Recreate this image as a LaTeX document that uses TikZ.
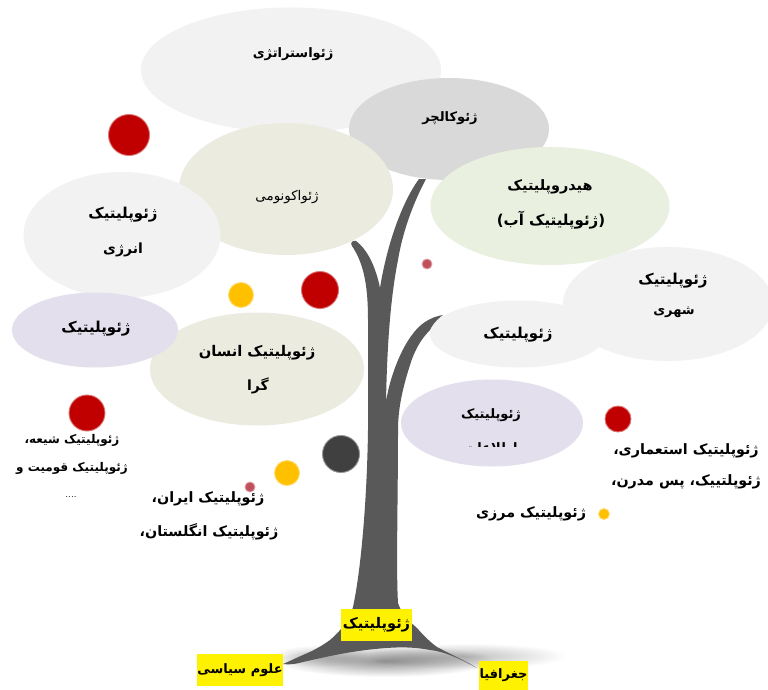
\documentclass[tikz,border=0pt]{standalone}
\usepackage{fontspec}
\usetikzlibrary{shapes.geometric}
\TeXXeTstate=1
\newfontfamily\fafont[Script=Arabic]{DejaVu Sans}
\newcommand{\fatxt}[1]{\fafont\beginR #1\endR}
\definecolor{bgrey}{HTML}{F2F2F2}
\definecolor{bdark}{HTML}{D9D9D9}
\definecolor{bolive}{HTML}{EBEBE0}
\definecolor{bgreen}{HTML}{E9F0DF}
\definecolor{bpurple}{HTML}{E3DFEC}
\definecolor{dred}{HTML}{C00000}
\definecolor{dyellow}{HTML}{FFC000}
\definecolor{dpink}{HTML}{C0505A}
\definecolor{ddark}{HTML}{404040}
\definecolor{trunk}{HTML}{595959}
\tikzset{
  x=1pt,y=-1pt,
  bub/.style={ellipse,inner sep=0pt,draw=none},
  dotc/.style={circle,inner sep=0pt,fill=#1,draw=#1!55,line width=0.9pt},
  lab/.style={inner sep=0pt,font=\fontsize{#1}{#1}\selectfont\bfseries,text=black},
  tag/.style={fill=yellow,inner sep=0pt,text=black,font=\fontsize{#1}{#1}\selectfont\bfseries},
}
\begin{document}
\begin{tikzpicture}
\useasboundingbox (0,0) rectangle (768,690);
\fill[white] (0,0) rectangle (768,690);
% shadow under the tree
\begin{scope}[blend mode=multiply]
\shade[inner color=black!25,outer color=white,draw=none] (465,656) ellipse [x radius=102,y radius=13];
\shade[inner color=black!22,outer color=white,draw=none] (320,656) ellipse [x radius=50,y radius=11];
\shade[inner color=black!42,outer color=white,draw=none] (385,661) ellipse [x radius=110,y radius=16];
\end{scope}
% tree
\fill[trunk] (283,664) .. controls (290,661) and (296,658) .. (303,655)
  .. controls (315,650) and (323,645) .. (330,640)
  .. controls (342,630) and (350,618) .. (353,607)
  .. controls (361,570) and (367,500) .. (368,430)
  -- (368,320)
  .. controls (368,290) and (365,265) .. (352,246)
  .. controls (350,243) and (352,240) .. (356,241)
  .. controls (368,250) and (376,268) .. (380,288)
  .. controls (386,250) and (400,205) .. (419,179)
  -- (426,179)
  .. controls (412,205) and (402,235) .. (398,260)
  .. controls (390,300) and (387,350) .. (386,402)
  .. controls (390,375) and (405,335) .. (425,322)
  .. controls (431,318) and (437,316) .. (443,315)
  .. controls (436,320) and (432,326) .. (430,330)
  .. controls (420,340) and (414,352) .. (410,365)
  .. controls (402,390) and (398,410) .. (398,430)
  .. controls (398,500) and (396,570) .. (398,603)
  .. controls (402,615) and (410,622) .. (417,628)
  .. controls (423,635) and (430,642) .. (437,647)
  .. controls (452,655) and (466,661) .. (477,668)
  .. controls (462,660) and (447,652) .. (430,650)
  .. controls (415,647) and (400,647) .. (387,648)
  .. controls (355,650) and (325,657) .. (303,662)
  .. controls (296,664) and (289,665) .. (283,664) -- cycle;
% bubbles
\node[bub,fill=bgrey,minimum width=300,minimum height=125] (strat) at (291,70) {};
\node[bub,fill=bdark,minimum width=200,minimum height=102] (cult) at (449,129) {};
\node[bub,fill=bolive,minimum width=214,minimum height=132] (econ) at (286,189) {};
\node[bub,fill=bgreen,minimum width=239,minimum height=118] (hydro) at (550,206) {};
\node[bub,fill=bgrey,minimum width=197,minimum height=126] (energy) at (122,235) {};
\node[bub,fill=bgrey,minimum width=176,minimum height=67] (plain) at (518,334) {};
\node[bub,fill=bgrey,minimum width=210,minimum height=114] (urban) at (668,304) {};
\node[bub,fill=bolive,minimum width=214,minimum height=113] (human) at (257,369) {};
\node[bub,fill=bpurple,minimum width=166,minimum height=75] (purple) at (95,330) {};
\node[bub,fill=bpurple,minimum width=182,minimum height=87] (info) at (492,423) {};
% dots
\node[dotc=dred,minimum size=41] (d1) at (129,135) {};
\node[dotc=dred,minimum size=37] (d2) at (320,290) {};
\node[dotc=dyellow,minimum size=25] (d3) at (241,295) {};
\node[dotc=dpink,minimum size=10] (d4) at (427,264) {};
\node[dotc=dred,minimum size=36] (d5) at (87,413) {};
\node[dotc=ddark,minimum size=37] (d6) at (341,454) {};
\node[dotc=dyellow,minimum size=25] (d7) at (287,473) {};
\node[dotc=dpink,minimum size=10] (d8) at (250,487) {};
\node[dotc=dred,minimum size=26] (d9) at (618,419) {};
\node[dotc=dyellow,minimum size=11] (d10) at (604,514) {};
% labels
\node[lab=13] (t1) at (293,54) {\fatxt{ژئواستراتژی}};
\node[lab=13] (t2) at (450,118) {\fatxt{ژئوکالچر}};
\node[inner sep=0pt,font=\fontsize{13.4}{14}\selectfont] (t3) at (287,197) {\fatxt{ژئواکونومی}};
\node[lab=14.4] (t4) at (550,187) {\fatxt{هیدروپلیتیک}};
\node[lab=15] (t5) at (551,220) {\fatxt{(ژئوپلیتیک آب)}};
\node[lab=15] (t6) at (123,215) {\fatxt{ژئوپلیتیک}};
\node[lab=14] (t7) at (123,250) {\fatxt{انرژی}};
\node[lab=15] (t8) at (673,281) {\fatxt{ژئوپلیتیک}};
\node[lab=13] (t9) at (674,312) {\fatxt{شهری}};
\node[lab=15] (t10) at (518,335) {\fatxt{ژئوپلیتیک}};
\node[lab=15] (t11) at (96,329) {\fatxt{ژئوپلیتیک}};
\node[lab=14.7] (t12) at (257,353) {\fatxt{ژئوپلیتیک انسان}};
\node[lab=14] (t13) at (258,386) {\fatxt{گرا}};
\node[lab=13] (t14) at (491,415) {\fatxt{ژئوپلیتیک}};
\begin{scope}
\clip (440,430) rectangle (540,446);
\node[lab=13] (t15) at (491,448) {\fatxt{اطلاعات}};
\end{scope}
\node[lab=12] (t16) at (72,440) {\fatxt{ژئوپلیتیک شیعه،}};
\node[lab=12] (t17) at (72,468) {\fatxt{ژئوپلیتیک قومیت و}};
\node[inner sep=0pt,font=\fontsize{10}{11}\selectfont] (t18) at (71,497) {....};
\node[lab=14.3] (t19) at (208,499) {\fatxt{ژئوپلیتیک ایران،}};
\node[lab=14.3] (t20) at (209,532) {\fatxt{ژئوپلیتیک انگلستان،}};
\node[lab=14.3] (t21) at (686,451) {\fatxt{ژئوپلیتیک استعماری،}};
\node[lab=14.3] (t22) at (686,482) {\fatxt{ژئوپلتییک، پس مدرن،}};
\node[lab=14.3] (t23) at (531,514) {\fatxt{ژئوپلیتیک مرزی}};
% yellow tags
\node[tag=14.6,minimum width=71,minimum height=32] (g1) at (376.5,625) {\fatxt{ژئوپلیتیک}};
\node[tag=13,minimum width=86,minimum height=32] (g2) at (240,670) {\fatxt{علوم سیاسی}};
\node[tag=13,minimum width=49,minimum height=29] (g3) at (503.5,675.5) {\fatxt{جغرافیا}};
\end{tikzpicture}
\end{document}
